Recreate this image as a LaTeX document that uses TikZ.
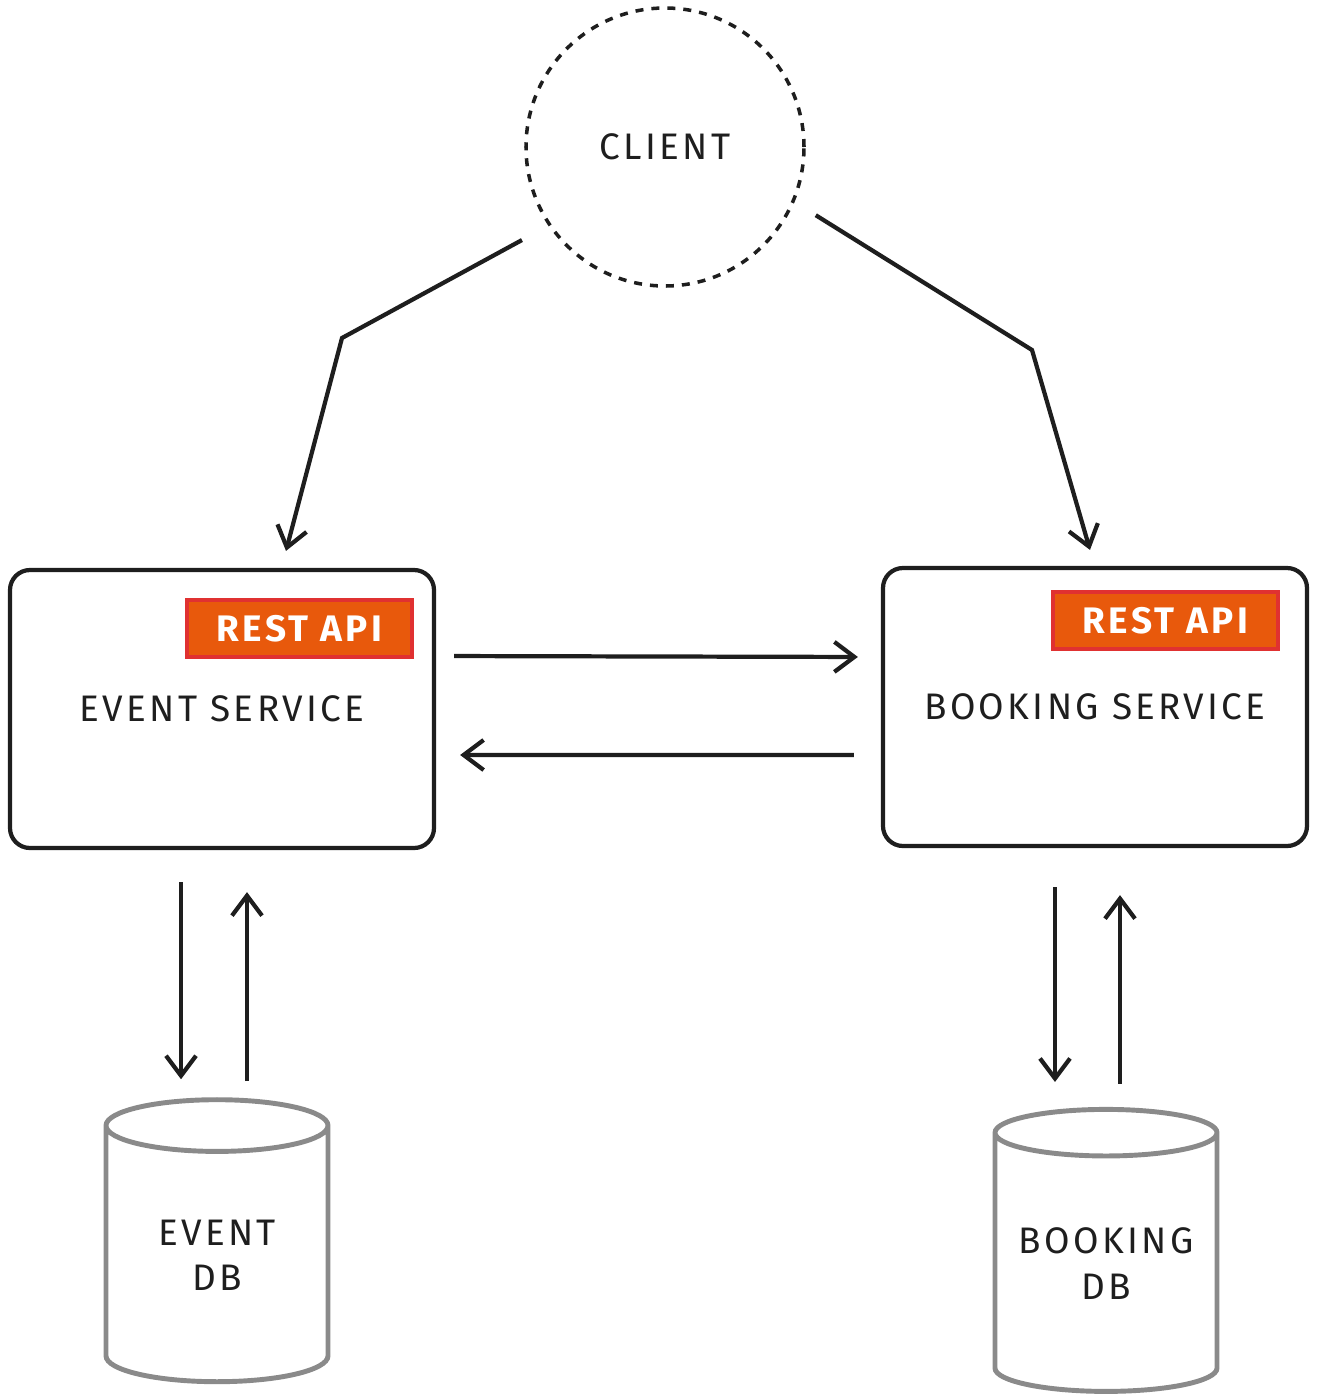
\documentclass[tikz,border=0pt]{standalone}
\usepackage{fontspec}
\setmainfont{Fira Sans}[LetterSpace=9]
\usetikzlibrary{arrows.meta,shapes.geometric}

\definecolor{ink}{HTML}{1E1E1E}
\definecolor{apiorange}{HTML}{E8590C}
\definecolor{apired}{HTML}{E03131}
\definecolor{dbgray}{HTML}{8A8A8A}

\tikzset{%
  service/.style={
    rectangle,
    rounded corners=4mm,
    draw=ink,
    line width=2.4pt,
    minimum width=84.8mm,
    minimum height=55.6mm,
    align=center
  },
  client/.style={
    circle,
    draw=ink,
    line width=2pt,
    dash pattern=on 1.6mm off 1.6mm,
    minimum size=55.6mm
  },
  api/.style={
    rectangle,
    fill=apiorange,
    draw=apired,
    line width=1.8pt,
    minimum width=45mm,
    minimum height=11.4mm,
    text=white,
    font=\fontsize{21}{24}\selectfont\bfseries
  },
  database/.style={
    cylinder,
    shape border rotate=90,
    draw=dbgray,
    line width=2.8pt,
    aspect=0.4,
    minimum width=44.4mm,
    minimum height=56.4mm,
    align=center
  },
  link/.style={
    draw=ink,
    line width=2.4pt,
    -{Straight Barb[length=4mm,width=6mm]}
  },
}

\begin{document}
\begin{tikzpicture}[x=0.2mm,y=-0.2mm,font=\fontsize{21}{26}\selectfont,text=ink]
\useasboundingbox (0,0) rectangle (1317,1400);
\node[client] (client) at (665,147) {CLIENT};
\node[service] (event) at (222,709) {EVENT SERVICE};
\node[service] (booking) at (1095,707) {BOOKING SERVICE};
\node[api] (eventapi) at (299.5,628.5) {REST API};
\node[api] (bookingapi) at (1165.5,620.5) {REST API};
\node[database] (eventdb) at (217,1259) {\raisebox{-3mm}{\begin{tabular}{@{}c@{}}EVENT\\DB\end{tabular}}};
\node[database, aspect=0.25] (bookingdb) at (1106,1267) {\raisebox{-3mm}{\begin{tabular}{@{}c@{}}BOOKING\\DB\end{tabular}}};
\coordinate (leftbend) at (342,338);
\coordinate (rightbend) at (1032,350);
% client to the services
\draw[link, shorten <=6mm] (client.214) -- (leftbend) -- ([xshift=12.8mm, yshift=3.4mm]event.north);
\draw[link, shorten <=5mm] (client.337) -- (rightbend) -- ([xshift=-1mm, yshift=3.2mm]booking.north);
% service to service
\draw[link, shorten <=3.6mm, shorten >=4.6mm] ([yshift=10.6mm]event.east) -- ([yshift=10mm]booking.west);
\draw[link, shorten <=5.4mm, shorten >=4.8mm] ([yshift=-9.6mm]booking.west) -- ([yshift=-9.2mm]event.east);
% services and databases
\draw[link, shorten <=6.4mm, shorten >=3.6mm] ([xshift=-8.2mm]event.south) -- ([xshift=-8.2mm]event.south |- eventdb.north);
\draw[link, shorten <=3.2mm, shorten >=8.4mm] ([xshift=5mm]event.south |- eventdb.north) -- ([xshift=5mm]event.south);
\draw[link, shorten <=7.8mm, shorten >=5mm] ([xshift=-8mm]booking.south) -- ([xshift=-8mm]booking.south |- bookingdb.north);
\draw[link, shorten <=4.6mm, shorten >=9.4mm] ([xshift=5mm]booking.south |- bookingdb.north) -- ([xshift=5mm]booking.south);
\end{tikzpicture}
\end{document}
